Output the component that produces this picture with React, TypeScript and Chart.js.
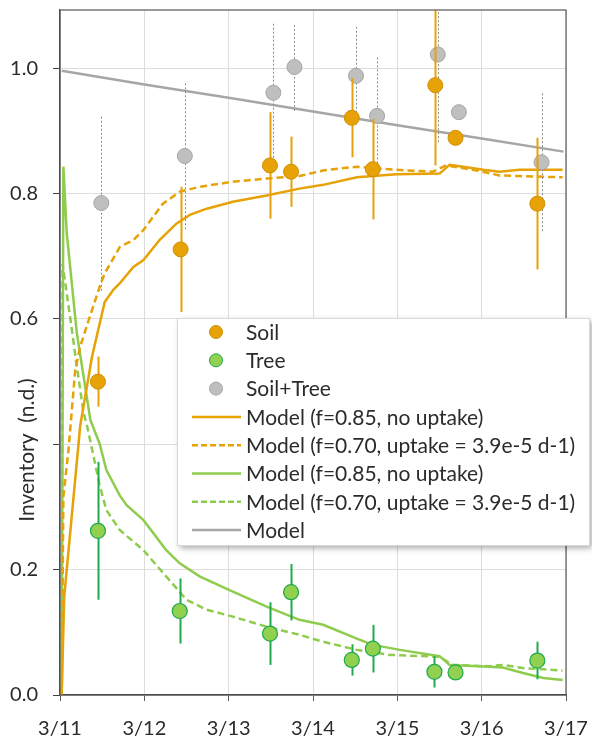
import React, { useEffect, useRef } from "react";
import { Chart, registerables } from "chart.js";
Chart.register(...registerables);

// ---------- data ----------
const xTickLabels = ["3/11", "3/12", "3/13", "3/14", "3/15", "3/16", "3/17"];
const yAxisTitle = "Inventory  (n.d.)";

const soilX = [0.45, 1.43, 2.49, 2.74, 3.46, 3.71, 4.45, 4.69, 5.66];
const soilY = [0.5, 0.711, 0.845, 0.835, 0.921, 0.839, 0.973, 0.889, 0.784];
const soilErr = [0.04, 0.1, 0.085, 0.056, 0.063, 0.08, 0.128, 0, 0.105];

const treeX = [0.45, 1.42, 2.49, 2.74, 3.46, 3.71, 4.44, 4.69, 5.66];
const treeY = [0.262, 0.134, 0.098, 0.164, 0.056, 0.074, 0.037, 0.036, 0.055];
const treeErr = [0.11, 0.052, 0.05, 0.045, 0.025, 0.038, 0.025, 0, 0.03];

const totalX = [0.49, 1.48, 2.53, 2.78, 3.51, 3.76, 4.48, 4.73, 5.71];
const totalY = [0.785, 0.86, 0.961, 1.002, 0.988, 0.924, 1.022, 0.93, 0.85];
const totalErr = [0.14, 0.117, 0.11, 0.07, 0.078, 0.095, 0.14, 0, 0.11];

const soilModelAX = [0.02, 0.05, 0.24, 0.38, 0.53, 0.63, 0.71, 0.87, 0.99, 1.18, 1.38, 1.54, 1.74, 2.05, 2.45, 2.84, 3.12, 3.52, 3.71, 3.99, 4.5, 4.62, 4.78, 5.02, 5.21, 5.45, 5.96];
const soilModelAY = [0, 0.157, 0.43, 0.54, 0.627, 0.646, 0.657, 0.683, 0.694, 0.726, 0.752, 0.766, 0.776, 0.787, 0.797, 0.808, 0.814, 0.826, 0.828, 0.831, 0.832, 0.846, 0.843, 0.838, 0.835, 0.838, 0.838];

const soilModelBX = [0.02, 0.04, 0.1, 0.18, 0.24, 0.34, 0.47, 0.53, 0.71, 0.87, 0.99, 1.22, 1.42, 1.66, 2.05, 2.45, 2.84, 3.12, 3.52, 3.99, 4.42, 4.58, 4.94, 5.21, 5.45, 5.96];
const soilModelBY = [0, 0.316, 0.39, 0.518, 0.556, 0.598, 0.651, 0.673, 0.715, 0.726, 0.742, 0.784, 0.803, 0.811, 0.819, 0.824, 0.828, 0.837, 0.843, 0.838, 0.835, 0.845, 0.837, 0.829, 0.828, 0.826];

const treeModelAX = [0.02, 0.04, 0.08, 0.2, 0.36, 0.47, 0.55, 0.71, 0.79, 0.99, 1.26, 1.42, 1.66, 2.05, 2.45, 2.84, 3.12, 3.52, 3.71, 4.03, 4.5, 4.62, 5.09, 5.25, 5.49, 5.73, 5.96];
const treeModelAY = [0, 0.843, 0.737, 0.577, 0.439, 0.401, 0.359, 0.318, 0.303, 0.279, 0.231, 0.21, 0.189, 0.165, 0.141, 0.12, 0.112, 0.09, 0.08, 0.072, 0.062, 0.048, 0.045, 0.044, 0.035, 0.027, 0.024];

const treeModelBX = [0.02, 0.03, 0.12, 0.2, 0.28, 0.32, 0.47, 0.55, 0.71, 0.99, 1.26, 1.5, 1.74, 2.05, 2.45, 2.84, 3.12, 3.52, 3.91, 4.5, 4.66, 5.09, 5.25, 5.49, 5.96];
const treeModelBY = [0, 0.688, 0.603, 0.524, 0.45, 0.43, 0.335, 0.295, 0.263, 0.231, 0.189, 0.152, 0.136, 0.125, 0.109, 0.096, 0.085, 0.072, 0.064, 0.061, 0.048, 0.046, 0.048, 0.043, 0.039];

const totalModelX = [0.02, 1, 2, 3, 4, 5, 5.97];
const totalModelY = [0.996, 0.974, 0.953, 0.931, 0.909, 0.888, 0.867];

const legendLabels = [
  "Soil",
  "Tree",
  "Soil+Tree",
  "Model (f=0.85, no uptake)",
  "Model (f=0.70, uptake = 3.9e-5 d-1)",
  "Model (f=0.85, no uptake)",
  "Model (f=0.70, uptake = 3.9e-5 d-1)",
  "Model",
];

// ---------- styles ----------
const ORANGE = "#E6A206";
const ORANGE_EDGE = "#CF8F00";
const GREEN_FILL = "#92D050";
const GREEN_EDGE = "#1FAA4C";
const GREEN_LINE = "#8FCC4E";
const GRAY_FILL = "#BFBFBF";
const GRAY_EDGE = "#A5A5A5";
const GRAY_LINE = "#A6A6A6";
const FONT = "Lato";
const TEXT = "#2B2B2B";

const pts = (xs: number[], ys: number[]) => xs.map((x, i) => ({ x, y: ys[i] }));

const errorBarPlugin = {
  id: "errorBars",
  beforeDatasetDraw(chart: any, args: any) {
    const ds: any = chart.data.datasets[args.index];
    if (!ds.errors) return;
    const { ctx, chartArea, scales } = chart;
    ctx.save();
    ctx.beginPath();
    ctx.rect(chartArea.left, chartArea.top, chartArea.right - chartArea.left, chartArea.bottom - chartArea.top);
    ctx.clip();
    ctx.strokeStyle = ds.errorColor;
    ctx.lineWidth = ds.errorWidth;
    ctx.setLineDash(ds.errorDash || []);
    ds.data.forEach((p: any, i: number) => {
      const e = ds.errors[i];
      if (!e) return;
      const px = Math.round(scales.x.getPixelForValue(p.x)) + 0.5;
      ctx.beginPath();
      ctx.moveTo(px, scales.y.getPixelForValue(p.y - e));
      ctx.lineTo(px, scales.y.getPixelForValue(p.y + e));
      ctx.stroke();
    });
    ctx.restore();
  },
};

const framePlugin = {
  id: "frameAndLegend",
  afterDraw(chart: any) {
    const { ctx, chartArea } = chart;
    ctx.save();
    // frame
    ctx.strokeStyle = "#595959";
    ctx.lineWidth = 1.2;
    ctx.strokeRect(chartArea.left, chartArea.top, chartArea.right - chartArea.left, chartArea.bottom - chartArea.top);

    // y-axis title
    ctx.save();
    ctx.translate(27, 450);
    ctx.rotate(-Math.PI / 2);
    ctx.font = `21px ${FONT}`;
    ctx.fillStyle = TEXT;
    ctx.textAlign = "center";
    ctx.textBaseline = "middle";
    ctx.fillText(yAxisTitle, 0, 0);
    ctx.restore();

    // legend box
    const bx = 177, by = 318, bw = 412, bh = 227;
    ctx.save();
    ctx.shadowColor = "rgba(0,0,0,0.35)";
    ctx.shadowBlur = 6;
    ctx.shadowOffsetX = 3;
    ctx.shadowOffsetY = 3;
    ctx.fillStyle = "#ffffff";
    ctx.fillRect(bx, by, bw, bh);
    ctx.restore();
    ctx.strokeStyle = "#D9D9D9";
    ctx.lineWidth = 1;
    ctx.strokeRect(bx + 0.5, by + 0.5, bw, bh);

    const rowY0 = 332;
    const rowH = 28.3;
    const markers = [
      [ORANGE, ORANGE_EDGE],
      [GREEN_FILL, GREEN_EDGE],
      [GRAY_FILL, GRAY_EDGE],
    ];
    const lines: [string, number[]][] = [
      [ORANGE, []],
      [ORANGE, [6, 3]],
      [GREEN_LINE, []],
      [GREEN_LINE, [6, 3]],
      [GRAY_LINE, []],
    ];
    ctx.font = `21px ${FONT}`;
    ctx.fillStyle = TEXT;
    ctx.textBaseline = "middle";
    ctx.textAlign = "left";
    legendLabels.forEach((label, i) => {
      const y = rowY0 + i * rowH;
      if (i < 3) {
        ctx.beginPath();
        ctx.arc(216, y, 6.5, 0, Math.PI * 2);
        ctx.fillStyle = markers[i][0];
        ctx.fill();
        ctx.strokeStyle = markers[i][1];
        ctx.lineWidth = 1;
        ctx.stroke();
      } else {
        const [c, d] = lines[i - 3];
        ctx.beginPath();
        ctx.setLineDash(d);
        ctx.strokeStyle = c;
        ctx.lineWidth = 2.5;
        ctx.moveTo(192, y);
        ctx.lineTo(241, y);
        ctx.stroke();
        ctx.setLineDash([]);
      }
      ctx.fillStyle = TEXT;
      ctx.fillText(label, 246, y + 1);
    });
    ctx.restore();
  },
};

export default function App() {
  const ref = useRef<HTMLCanvasElement | null>(null);
  useEffect(() => {
    if (!ref.current) return;
    const lineDs = (label: string, xs: number[], ys: number[], color: string, dash: number[]) => ({
      type: "line" as const,
      label,
      data: pts(xs, ys),
      showLine: true,
      borderColor: color,
      backgroundColor: color,
      borderWidth: 2.5,
      borderDash: dash,
      pointRadius: 0,
      tension: 0,
      fill: false,
    });
    const chart = new Chart(ref.current, {
      type: "scatter",
      data: {
        datasets: [
          {
            label: "Soil",
            data: pts(soilX, soilY),
            errors: soilErr,
            errorColor: ORANGE,
            errorWidth: 2,
            pointRadius: 7.5,
            backgroundColor: ORANGE,
            borderColor: ORANGE_EDGE,
            borderWidth: 1,
          } as any,
          {
            label: "Tree",
            data: pts(treeX, treeY),
            errors: treeErr,
            errorColor: GREEN_EDGE,
            errorWidth: 2,
            pointRadius: 7.5,
            backgroundColor: GREEN_FILL,
            borderColor: GREEN_EDGE,
            borderWidth: 1.2,
          } as any,
          {
            label: "Soil+Tree",
            data: pts(totalX, totalY),
            errors: totalErr,
            errorColor: "#8C8C8C",
            errorWidth: 1,
            errorDash: [2, 2],
            pointRadius: 7.5,
            backgroundColor: GRAY_FILL,
            borderColor: GRAY_EDGE,
            borderWidth: 1,
          } as any,
          lineDs(legendLabels[3], soilModelAX, soilModelAY, ORANGE, []),
          lineDs(legendLabels[4], soilModelBX, soilModelBY, ORANGE, [7, 4]),
          lineDs(legendLabels[5], treeModelAX, treeModelAY, GREEN_LINE, []),
          lineDs(legendLabels[6], treeModelBX, treeModelBY, GREEN_LINE, [7, 4]),
          lineDs(legendLabels[7], totalModelX, totalModelY, GRAY_LINE, []),
        ],
      },
      options: {
        animation: false,
        responsive: false,
        layout: { padding: { top: 10, right: 26, left: 0, bottom: 0 } },
        plugins: { legend: { display: false }, tooltip: { enabled: false } },
        scales: {
          x: {
            type: "linear",
            min: 0,
            max: 6,
            afterFit: (s: any) => {
              s.height = 48;
              s.paddingLeft = 0;
              s.paddingRight = 0;
            },
            ticks: {
              stepSize: 1,
              includeBounds: false,
              padding: 16,
              color: TEXT,
              font: { family: FONT, size: 20 },
              callback: (v: any) => xTickLabels[Math.round(Number(v))] ?? "",
              maxRotation: 0,
              autoSkip: false,
            },
            grid: { color: "#DDDDDD", tickColor: "#595959", tickLength: 6, lineWidth: 1 },
            border: { display: true, color: "#404040", width: 1.2 },
          },
          y: {
            type: "linear",
            min: 0,
            max: 1.093,
            afterFit: (s: any) => {
              s.width = 60;
              s.paddingTop = 0;
              s.paddingBottom = 0;
            },
            ticks: {
              stepSize: 0.2,
              includeBounds: false,
              padding: 15,
              color: TEXT,
              font: { family: FONT, size: 20 },
              callback: (v: any) => (Math.abs(Number(v) - 0.4) < 1e-6 ? "" : Number(v).toFixed(1)),
            },
            grid: { color: "#DDDDDD", tickColor: "#404040", tickLength: 7, lineWidth: 1 },
            border: { display: true, color: "#404040", width: 1.2 },
          },
        },
      } as any,
      plugins: [errorBarPlugin, framePlugin],
    });
    return () => chart.destroy();
  }, []);
  return (
    <div style={{ position: "absolute", left: 0, top: 0, width: 592, height: 743, background: "#fff" }}>
      <canvas ref={ref} width={592} height={743} style={{ display: "block" }} />
    </div>
  );
}
